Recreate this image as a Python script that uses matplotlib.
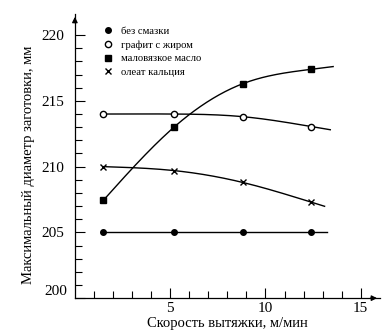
import numpy as np
import matplotlib
matplotlib.use("Agg")
import matplotlib.pyplot as plt

plt.rcParams['font.family'] = ['Liberation Serif', 'DejaVu Serif']

# --- данные ---
speed = [1.5, 5.2, 8.8, 12.4]
bez_smazki = [205.0, 205.0, 205.0, 205.0]
grafit = [214.0, 214.0, 213.8, 213.05]
maslo = [207.45, 213.0, 216.3, 217.4]
oleat = [210.0, 209.7, 208.8, 207.3]

labels = ["без смазки", "графит с жиром", "маловязкое масло", "олеат кальция"]
x_ends = [13.25, 13.4, 13.55, 13.1]  # где заканчиваются кривые


def smooth(x, y, xs):
    # естественный кубический сплайн + линейное продолжение за последней точкой
    x = np.asarray(x, float)
    y = np.asarray(y, float)
    n = len(x)
    h = np.diff(x)
    A = np.zeros((n, n))
    r = np.zeros(n)
    A[0, 0] = A[-1, -1] = 1
    for i in range(1, n - 1):
        A[i, i - 1] = h[i - 1]
        A[i, i] = 2 * (h[i - 1] + h[i])
        A[i, i + 1] = h[i]
        r[i] = 6 * ((y[i + 1] - y[i]) / h[i] - (y[i] - y[i - 1]) / h[i - 1])
    M = np.linalg.solve(A, r)
    out = np.empty_like(xs)
    for k, xv in enumerate(xs):
        if xv >= x[-1]:
            i = n - 2
            slope = (y[i + 1] - y[i]) / h[i] + h[i] * (2 * M[i + 1] + M[i]) / 6
            out[k] = y[-1] + slope * (xv - x[-1])
            continue
        i = min(max(np.searchsorted(x, xv) - 1, 0), n - 2)
        t1 = x[i + 1] - xv
        t0 = xv - x[i]
        out[k] = (M[i] * t1 ** 3 + M[i + 1] * t0 ** 3) / (6 * h[i]) \
            + (y[i] / h[i] - M[i] * h[i] / 6) * t1 \
            + (y[i + 1] / h[i] - M[i + 1] * h[i] / 6) * t0
    return out


fig = plt.figure(figsize=(3.88, 3.35), dpi=100)
ax = fig.add_axes([0.193, 0.110, 0.786, 0.848])

styles = [
    dict(marker="o", mfc="black", ms=4),
    dict(marker="o", mfc="white", ms=4.5, mew=1.0),
    dict(marker="s", mfc="black", ms=4),
    dict(marker="x", mfc="black", ms=4, mew=1.0),
]
series = [bez_smazki, grafit, maslo, oleat]

handles = []
for ys, st, lab, xe in zip(series, styles, labels, x_ends):
    xs = np.linspace(speed[0], xe, 150)
    ax.plot(xs, smooth(speed, ys, xs), color="black", lw=1.0)
    h, = ax.plot(speed, ys, ls="none", color="black", mec="black", zorder=3, **st)
    handles.append(h)

ax.set_xlim(0, 16)
ax.set_ylim(200, 221.6)

ax.set_xticks([5, 10, 15])
ax.set_xticks(np.arange(1, 16), minor=True)
ax.set_yticks([200, 205, 210, 215, 220])
ax.set_yticklabels(["", "205", "210", "215", "220"])
ax.set_yticks(np.arange(200, 221), minor=True)
ax.tick_params(which="both", direction="in", width=0.8, labelsize=11)
ax.tick_params(which="major", length=7)
ax.tick_params(which="minor", length=5)
ax.tick_params(axis="y", pad=8)
ax.tick_params(axis="x", pad=3)

# подпись 200 чуть выше оси, как в оригинале
ax.annotate("200", xy=(0, 200), xycoords=("axes fraction", "data"),
            xytext=(-8, 7), textcoords="offset pixels",
            ha="right", va="center", fontsize=11)

for s in ["top", "right"]:
    ax.spines[s].set_visible(False)
for s in ["left", "bottom"]:
    ax.spines[s].set_linewidth(0.9)

# стрелки на осях
ax.annotate("", xy=(1.0, 0), xytext=(0.96, 0), xycoords="axes fraction",
            arrowprops=dict(arrowstyle="-|>", color="black", lw=0.9, mutation_scale=8),
            annotation_clip=False)
ax.annotate("", xy=(0, 1.0), xytext=(0, 0.96), xycoords="axes fraction",
            arrowprops=dict(arrowstyle="-|>", color="black", lw=0.9, mutation_scale=8),
            annotation_clip=False)

ax.set_xlabel("Скорость вытяжки, м/мин", fontsize=10.5, labelpad=1)
ax.set_ylabel("Максимальный диаметр заготовки, мм", fontsize=10.5, labelpad=6)
ax.yaxis.set_label_coords(-0.13, 0.47)

ax.legend(handles, labels, loc="upper left", bbox_to_anchor=(0.07, 0.983),
          frameon=False, fontsize=7.7, handlelength=0.8, handletextpad=0.8,
          labelspacing=0.4, borderpad=0.2)

fig.savefig("out.png", dpi=100)
